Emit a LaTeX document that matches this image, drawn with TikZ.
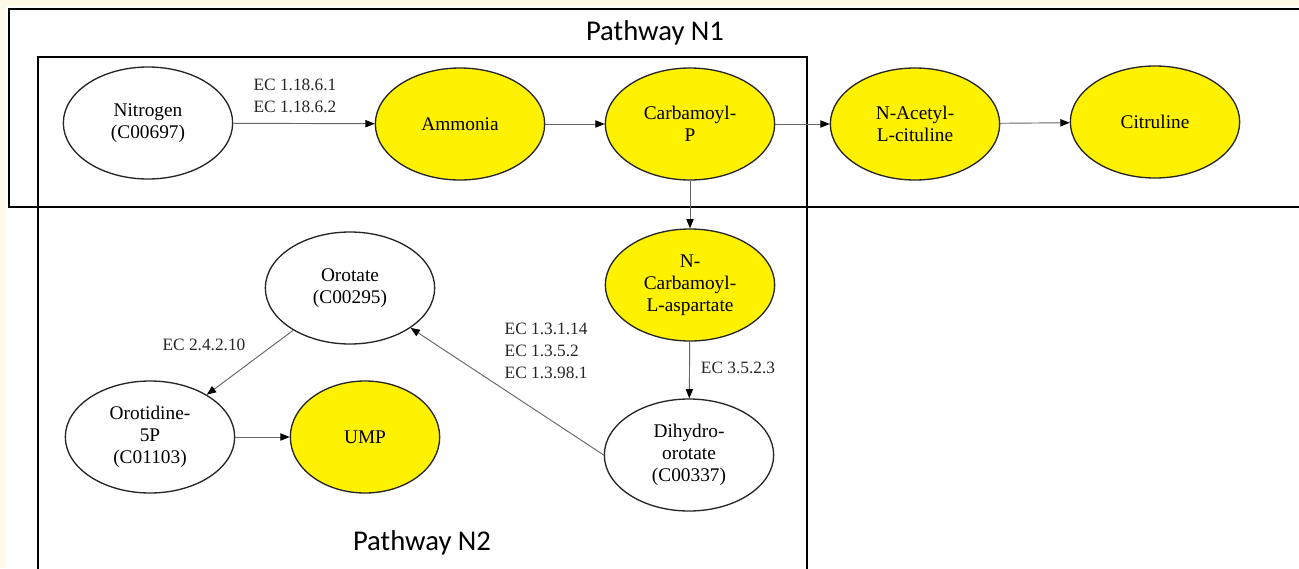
\documentclass[tikz,border=0pt]{standalone}
\usepackage{fontspec}
\setmainfont{Liberation Serif}
\newfontfamily\pathwayfont{Carlito}
\usepackage{xcolor}
\usetikzlibrary{arrows.meta,shapes.geometric}
\definecolor{slidecream}{HTML}{FFFAE8}

\begin{document}
\begin{tikzpicture}[x=0.75pt,y=-0.75pt,
        cpd/.style={ellipse, draw=black!85, line width=1pt, minimum width=127pt,
          minimum height=84pt, inner sep=0pt, align=center,
          font={\fontsize{14.5}{16.5}\selectfont}},
        hit/.style={cpd, fill=yellow},
        rxn/.style={draw=black!60, line width=0.7pt,
          -{Triangle[length=7pt,width=5.5pt,color=black]}},
        ec/.style={font={\fontsize{13}{16.5}\selectfont}, text=black!85},
        pathbox/.style={line width=2.2pt},
        pathlbl/.style={font={\pathwayfont\fontsize{21.5}{26}\selectfont}}]
          \clip (0,0) rectangle (1299,568);
          \fill[slidecream] (0,0) rectangle (1299,568);
          \fill[white] (6,6) rectangle (1299,568);

          %pathway boxes
          \draw[pathbox] (9,9) rectangle (1320,207);
          \draw[pathbox] (38,57) rectangle (807,600);
          \node[pathlbl] (n1lbl) at (655,33) {Pathway N1};
          \node[pathlbl] (n2lbl) at (422,543) {Pathway N2};

          %compounds pathway N1
          \node[cpd] (nitrogen) at (148,123) {Nitrogen\\(C00697)};
          \node[hit] (ammonia)  at (460,124) {Ammonia};
          \node[hit] (carbp)    at (690,124) {Carbamoyl-\\P};
          \node[hit] (acetyl)   at (915,124) {N-Acetyl-\\L-cituline};
          \node[hit] (citrul)   at (1155,122) {Citruline};

          %compounds pathway N2
          \node[hit] (carbasp)  at (690,285) {N-\\Carbamoyl-\\L-aspartate};
          \node[cpd] (dihydro)  at (689,455) {Dihydro-\\orotate\\(C00337)};
          \node[cpd] (orotate)  at (350,288) {Orotate\\(C00295)};
          \node[cpd] (orotid)   at (150,437) {Orotidine-\\5P\\(C01103)};
          \node[hit, minimum width=112pt] (ump) at (365,437) {UMP};

          %reactions
          \draw[rxn] (nitrogen) -- (ammonia);
          \draw[rxn] (ammonia) -- (carbp);
          \draw[rxn] (carbp) -- (acetyl);
          \draw[rxn] (acetyl) -- (citrul);
          \draw[rxn] (carbp) -- (carbasp);
          \draw[rxn] (carbasp) -- (dihydro);
          \draw[rxn] (dihydro.west) -- (orotate);
          \draw[rxn] (orotate) -- (orotid);
          \draw[rxn] (orotid) -- (ump);

          %enzyme labels
          \node[ec, align=center] (ec118) at (295,96) {EC 1.18.6.1\\EC 1.18.6.2};
          \node[ec] (ec352) at (738,368) {EC 3.5.2.3};
          \node[ec, align=left, anchor=west] (ec13) at (500,351) {EC 1.3.1.14\\EC 1.3.5.2\\EC 1.3.98.1};
          \node[ec] (ec242) at (204,345) {EC 2.4.2.10};
    \end{tikzpicture}
\end{document}
